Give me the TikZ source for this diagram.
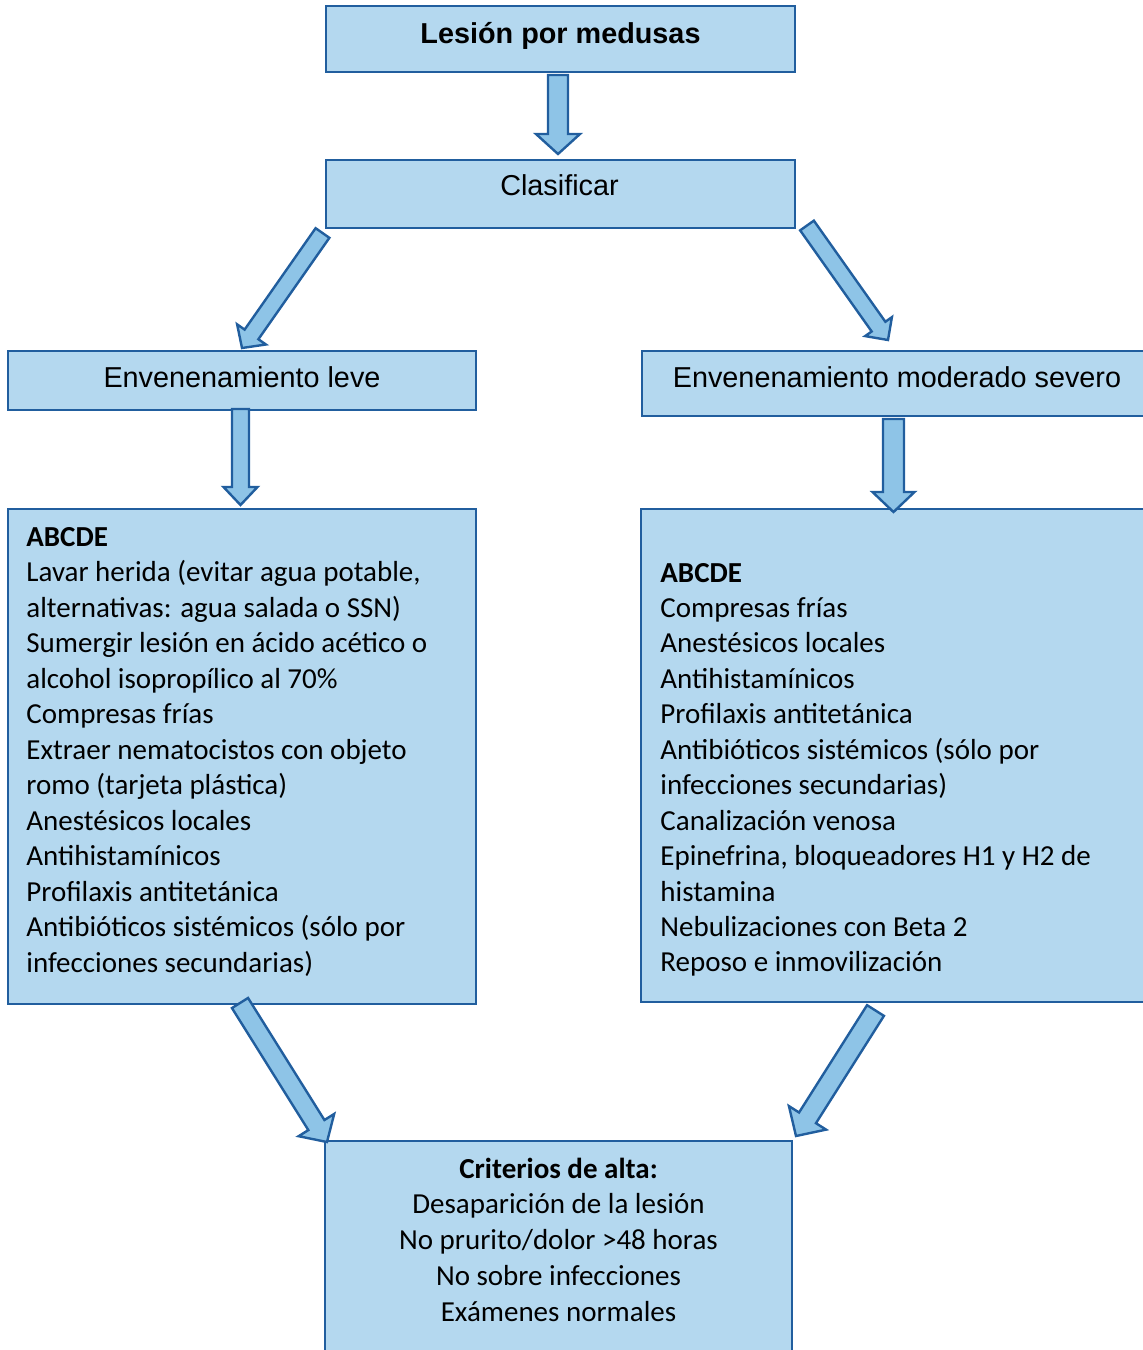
\documentclass[tikz,border=0pt]{standalone}
\usepackage{fontspec}
\setmainfont{Carlito}
\newfontfamily\headfont{Liberation Sans}
\usetikzlibrary{calc}

\definecolor{boxfill}{RGB}{180,216,239}
\definecolor{arrowfill}{RGB}{142,196,231}
\definecolor{edgeblue}{RGB}{33,94,158}

% block arrow: name, tail, tip, shaft half width, head half width, head length
\newcommand\blockarrow[6]{%
  \coordinate (#1-h) at ($(#3)!#6!(#2)$);
  \draw[arrowshape]
    ($(#2)!#4!90:(#3)$) -- ($(#1-h)!#4!-90:(#2)$) -- ($(#1-h)!#5!-90:(#2)$)
    -- (#3) -- ($(#1-h)!#5!90:(#2)$) -- ($(#1-h)!#4!90:(#2)$)
    -- ($(#2)!#4!-90:(#3)$) -- cycle;}

\begin{document}
\begin{tikzpicture}[x=0.5pt,y=-0.5pt,
  box/.style={draw=edgeblue, fill=boxfill, line width=1pt, rectangle, inner sep=0pt},
  arrowshape/.style={draw=edgeblue, fill=arrowfill, line width=1.2pt, line join=miter},
  head/.style={font=\headfont\fontsize{14.4}{17}\selectfont, inner sep=0pt, anchor=base},
  headbold/.style={head, font=\headfont\bfseries\fontsize{14.4}{17}\selectfont},
  body/.style={font=\fontsize{14.5}{17.75}\selectfont, inner sep=0pt, anchor=base west},
  bodyc/.style={font=\fontsize{14.5}{17.75}\selectfont, inner sep=0pt, anchor=base}]
\useasboundingbox (0,0) rectangle (1143,1350);
\clip (0,0) rectangle (1143,1350);

% boxes
\node[box, minimum width=234.5pt, minimum height=33pt] (lesion) at (560.5,39) {};
\node[box, minimum width=234.5pt, minimum height=34pt] (clasif) at (560.5,194) {};
\node[box, minimum width=234pt, minimum height=29.5pt] (leve) at (242,380.5) {};
\node[box, minimum width=260pt, minimum height=32.5pt] (grave) at (902,383.5) {};
\node[box, minimum width=234pt, minimum height=247.5pt] (manleve) at (242,756.5) {};
\node[box, minimum width=260.5pt, minimum height=246.5pt] (mangrave) at (901.5,755.5) {};
\node[box, minimum width=233.5pt, minimum height=110pt] (alta) at (558.5,1251) {};

% box titles
\node[headbold] (tlesion) at (560.5,43) {Lesión por medusas};
\node[head] (tclasif) at (559.5,195) {Clasificar};
\node[head] (tleve) at (242,387) {Envenenamiento leve};
\node[head] (tgrave) at (897,387) {Envenenamiento moderado severo};

% management, mild envenomation
\node[body] (l0) at (26,546) {\bfseries ABCDE};
\foreach \t [count=\i] in {
  {Lavar herida (evitar agua potable,},
  {alternativas: agua salada o SSN)},
  {Sumergir lesión en ácido acético o},
  {alcohol isopropílico al 70\%},
  {Compresas frías},
  {Extraer nematocistos con objeto},
  {romo (tarjeta plástica)},
  {Anestésicos locales},
  {Antihistamínicos},
  {Profilaxis antitetánica},
  {Antibióticos sistémicos (sólo por},
  {infecciones secundarias)}}
  \node[body] (l\i) at (26,{546+35.5*\i}) {\t};

% management, moderate to severe envenomation
\node[body] (r0) at (660,582) {\bfseries ABCDE};
\foreach \t [count=\i] in {
  {Compresas frías},
  {Anestésicos locales},
  {Antihistamínicos},
  {Profilaxis antitetánica},
  {Antibióticos sistémicos (sólo por},
  {infecciones secundarias)},
  {Canalización venosa},
  {Epinefrina, bloqueadores H1 y H2 de},
  {histamina},
  {Nebulizaciones con Beta 2},
  {Reposo e inmovilización}}
  \node[body] (r\i) at (660,{582+35.45*\i}) {\t};

% discharge criteria
\node[bodyc] (c0) at (558.5,1178) {\bfseries Criterios de alta:};
\foreach \t [count=\i] in {
  {Desaparición de la lesión},
  {No prurito/dolor >48 horas},
  {No sobre infecciones},
  {Exámenes normales}}
  \node[bodyc] (c\i) at (558.5,{1178+35.75*\i}) {\t};

% connectors
\coordinate (a1s) at ($(lesion.south)+(-2.5,2)$);
\coordinate (a1e) at ($(clasif.north)+(-2.5,-5)$);
\blockarrow{a1}{a1s}{a1e}{5pt}{11pt}{10pt}

\coordinate (a2s) at ($(clasif.south west)+(-2.5,4)$);
\coordinate (a2e) at ($(leve.north)+(0,-2)$);
\blockarrow{a2}{a2s}{a2e}{4.2pt}{8.8pt}{8.3pt}

\coordinate (a3s) at ($(clasif.south east)+(11,-3.5)$);
\coordinate (a3e) at ($(grave.north west)+(247,-10)$);
\blockarrow{a3}{a3s}{a3e}{4.2pt}{8.2pt}{8.2pt}

\coordinate (a4s) at ($(leve.south)+(-1.5,-2)$);
\coordinate (a4e) at ($(manleve.north)+(-1.5,-3)$);
\blockarrow{a4}{a4s}{a4e}{4.25pt}{8.5pt}{9pt}

\coordinate (a5s) at ($(grave.south)+(-8.5,2)$);
\coordinate (a5e) at ($(mangrave.north)+(-8,4)$);
\blockarrow{a5}{a5s}{a5e}{5.25pt}{10.5pt}{10pt}

\coordinate (a6s) at ($(manleve.south)+(-2,-2)$);
\coordinate (a6e) at ($(alta.north west)+(3,2)$);
\blockarrow{a6}{a6s}{a6e}{4.75pt}{10.5pt}{10pt}

\coordinate (a7s) at ($(mangrave.south)+(-26,7.5)$);
\coordinate (a7e) at ($(alta.north east)+(3,-4)$);
\blockarrow{a7}{a7s}{a7e}{5pt}{11pt}{10.75pt}
\end{tikzpicture}
\end{document}
